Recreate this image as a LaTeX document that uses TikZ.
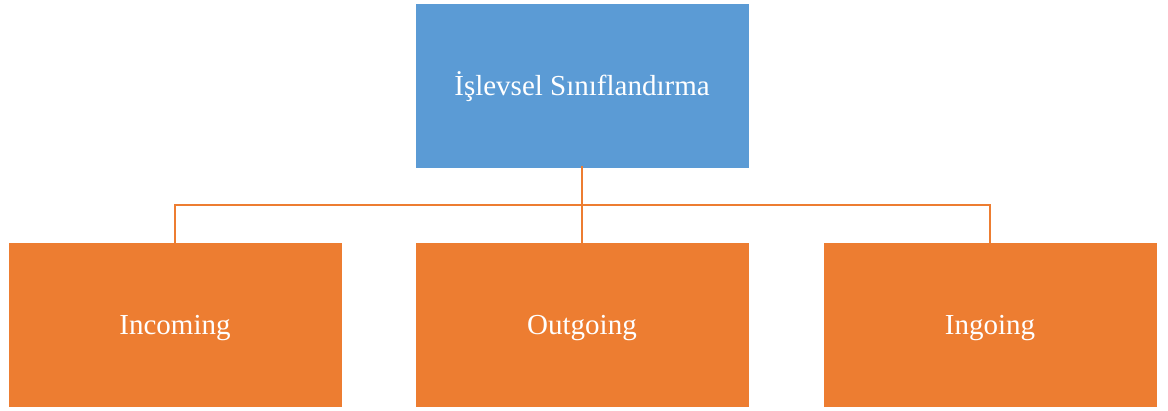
\documentclass[tikz,border=0pt]{standalone}
\usepackage{fontspec}
\setmainfont{Liberation Serif}
\definecolor{boxblue}{HTML}{5B9BD5}
\definecolor{boxorange}{HTML}{ED7D31}
\begin{document}
\begin{tikzpicture}[x=1pt,y=-1pt,
  box/.style={rectangle, draw=white, line width=1pt, minimum width=334pt, minimum height=165pt,
    inner sep=0pt, text height=19pt, text depth=0pt, text=white, font=\fontsize{29}{34}\selectfont},
  link/.style={draw=boxorange, line width=2.2pt}]
  \useasboundingbox (0,0) rectangle (1168,410);
  % root node
  \node[box, fill=boxblue] (root) at (582,85.5) {İşlevsel Sınıflandırma};
  % child nodes
  \node[box, fill=boxorange] (inc) at (175,324.5) {Incoming};
  \node[box, fill=boxorange] (out) at (582,324.5) {Outgoing};
  \node[box, fill=boxorange] (ing) at (990,324.5) {Ingoing};
  % bus connector
  \coordinate (bus) at (582,205);
  \draw[link] ([yshift=3pt]root.south) -- (bus);
  \draw[link] (bus) -| ([yshift=-3pt]inc.north);
  \draw[link] (bus) -| ([yshift=-3pt]ing.north);
  \draw[link] (bus) -- ([yshift=-3pt]out.north);
\end{tikzpicture}
\end{document}
